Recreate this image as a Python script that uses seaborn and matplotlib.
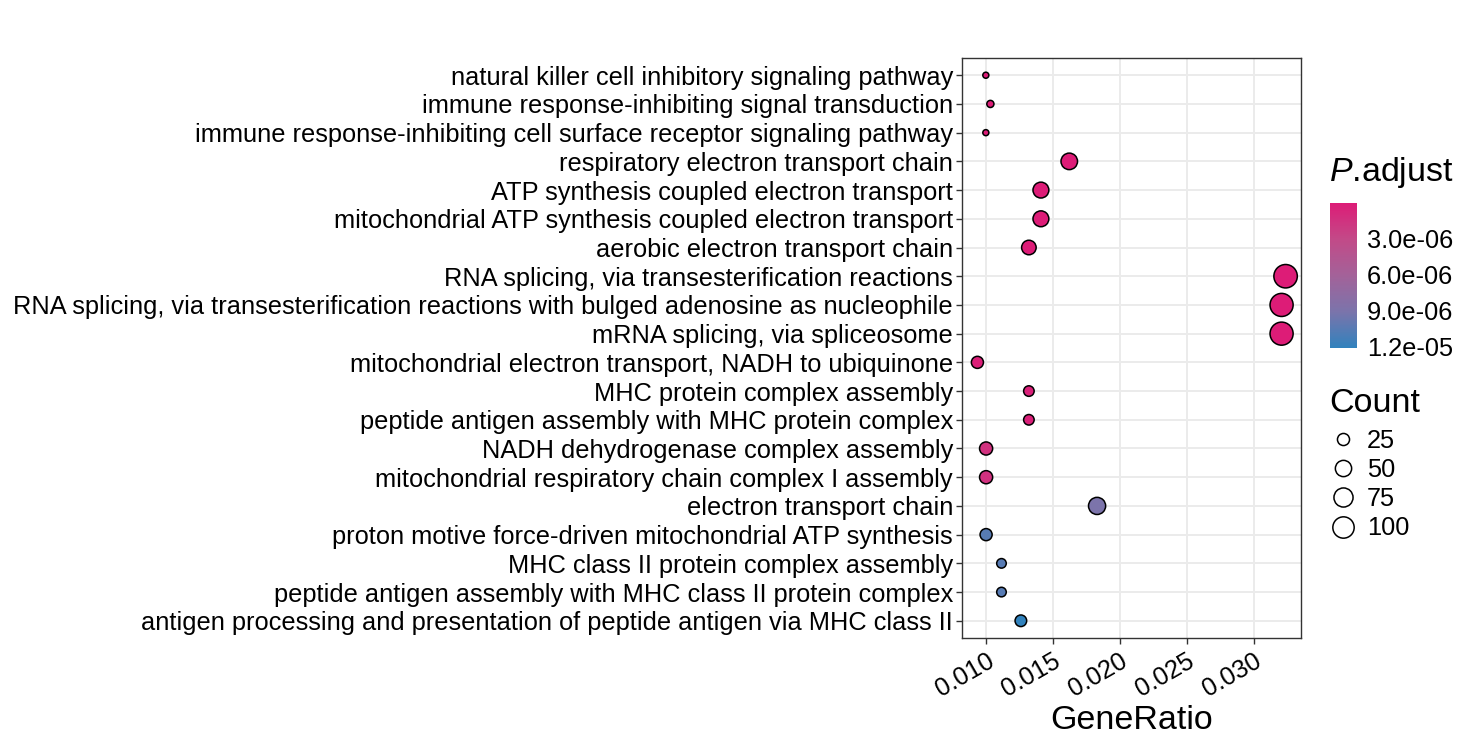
import numpy as np
import pandas as pd
import matplotlib
matplotlib.use("Agg")
import matplotlib.pyplot as plt
from matplotlib.colors import LinearSegmentedColormap, Normalize, PowerNorm
from matplotlib.lines import Line2D
import seaborn as sns

# GO terms, top to bottom as shown
terms = [
    "natural killer cell inhibitory signaling pathway",
    "immune response-inhibiting signal transduction",
    "immune response-inhibiting cell surface receptor signaling pathway",
    "respiratory electron transport chain",
    "ATP synthesis coupled electron transport",
    "mitochondrial ATP synthesis coupled electron transport",
    "aerobic electron transport chain",
    "RNA splicing, via transesterification reactions",
    "RNA splicing, via transesterification reactions with bulged adenosine as nucleophile",
    "mRNA splicing, via spliceosome",
    "mitochondrial electron transport, NADH to ubiquinone",
    "MHC protein complex assembly",
    "peptide antigen assembly with MHC protein complex",
    "NADH dehydrogenase complex assembly",
    "mitochondrial respiratory chain complex I assembly",
    "electron transport chain",
    "proton motive force-driven mitochondrial ATP synthesis",
    "MHC class II protein complex assembly",
    "peptide antigen assembly with MHC class II protein complex",
    "antigen processing and presentation of peptide antigen via MHC class II",
]
gene_ratio = [0.00998, 0.01032, 0.00998, 0.01622, 0.0141, 0.0141, 0.0132,
              0.0324, 0.0321, 0.0321, 0.00935, 0.0132, 0.0132, 0.0100,
              0.0100, 0.0183, 0.0100, 0.01115, 0.01115, 0.0126]
counts = [10, 11, 10, 52, 47, 47, 38, 128, 123, 123,
          25, 19, 19, 30, 30, 57, 25, 16, 16, 23]
p_adjust = [2e-10, 3e-10, 2e-10, 5e-9, 1e-8, 1e-8, 3e-8, 1e-10, 1e-10, 1e-10,
            2e-7, 3e-7, 3e-7, 1.4e-6, 1.4e-6, 9.0e-6, 1.05e-5, 1.05e-5, 1.05e-5, 1.21e-5]

x_ticks = [0.010, 0.015, 0.020, 0.025, 0.030]
size_ticks = [25, 50, 75, 100]
color_ticks = [3e-6, 6e-6, 9e-6, 1.2e-5]
color_tick_labels = ["3.0e-06", "6.0e-06", "9.0e-06", "1.2e-05"]

df = pd.DataFrame({"Description": terms, "GeneRatio": gene_ratio,
                   "Count": counts, "p.adjust": p_adjust})

sns.set_theme(style="whitegrid")
plt.rcParams["font.family"] = ["Liberation Sans", "DejaVu Sans"]
plt.rcParams["text.color"] = "black"
plt.rcParams["mathtext.fontset"] = "custom"
plt.rcParams["mathtext.it"] = "Liberation Sans:italic"
plt.rcParams["mathtext.rm"] = "Liberation Sans"

# pink -> blue gradient (Lab-like interpolation stops, as ggplot does)
cmap = LinearSegmentedColormap.from_list(
    "padj", ["#DD1C77", "#C24A88", "#A36299", "#7B74AB", "#3182BD"])
cnorm = Normalize(vmin=min(p_adjust), vmax=max(p_adjust))
# ggplot scales point diameter with sqrt of the count; gamma .75 on area is close
snorm = PowerNorm(gamma=0.75, vmin=min(counts), vmax=max(counts))
size_range = (19, 285)

fig = plt.figure(figsize=(14.69, 7.44), dpi=100)
ax = fig.add_axes([962 / 1469, 1 - 638 / 744, (1301 - 962) / 1469, (638 - 58) / 744])

sns.scatterplot(data=df, x="GeneRatio", y="Description", hue="p.adjust",
                palette=cmap, hue_norm=cnorm, size="Count", sizes=size_range,
                size_norm=snorm, edgecolor="black", linewidth=1.1,
                legend=False, ax=ax, zorder=3)

pad = 0.05 * (max(gene_ratio) - min(gene_ratio))
ax.set_xlim(min(gene_ratio) - pad, max(gene_ratio) + pad)
ax.set_ylim(len(terms) - 0.4, -0.6)
ax.set_xticks(x_ticks)
ax.set_xticklabels(["%.3f" % v for v in x_ticks], rotation=30, ha="right",
                   rotation_mode="anchor")
ax.set_ylabel("")
ax.set_xlabel("GeneRatio", fontsize=24.5, labelpad=3, color="black")

ax.grid(True, color="#EBEBEB", linewidth=1.4)
ax.set_axisbelow(True)
for s in ax.spines.values():
    s.set_color("#333333")
    s.set_linewidth(1.0)
ax.tick_params(axis="both", which="major", length=4.5, width=1.0,
               color="#333333", labelsize=18.3, labelcolor="black",
               left=True, bottom=True)
ax.tick_params(axis="y", pad=2)
ax.tick_params(axis="x", pad=3)

# colour bar for p.adjust
cax = fig.add_axes([1330 / 1469, 1 - 348 / 744, 27 / 1469, 145 / 744])
sm = plt.cm.ScalarMappable(norm=cnorm, cmap=cmap)
cb = fig.colorbar(sm, cax=cax)
cb.outline.set_visible(False)
cax.grid(False)
cax.invert_yaxis()
cb.set_ticks(color_ticks, labels=color_tick_labels)
cax.minorticks_off()
cax.tick_params(axis="y", which="major", direction="in", color="white",
                length=4, width=1.0, left=True, right=True, labelsize=18.3,
                labelcolor="black", pad=7)
fig.text(1329 / 1469, 1 - 173 / 744, r"$\mathit{P}$.adjust", fontsize=24.5,
         ha="left", va="center")

# size legend for Count
fig.text(1329 / 1469, 1 - 403 / 744, "Count", fontsize=24.5,
         ha="left", va="center")
handles = []
for c in size_ticks:
    area = size_range[0] + float(snorm(c)) * (size_range[1] - size_range[0])
    handles.append(Line2D([], [], marker="o", linestyle="", markersize=np.sqrt(area),
                          markerfacecolor="white", markeredgecolor="black",
                          markeredgewidth=1.1, label=str(c)))
fig.legend(handles=handles, loc="upper left",
           bbox_to_anchor=(1320 / 1469, 1 - 419 / 744), frameon=False,
           fontsize=18.3, labelspacing=0.2, handletextpad=0.45,
           handlelength=1.0, borderaxespad=0, labelcolor="black")

fig.savefig("out.png", dpi=100)
